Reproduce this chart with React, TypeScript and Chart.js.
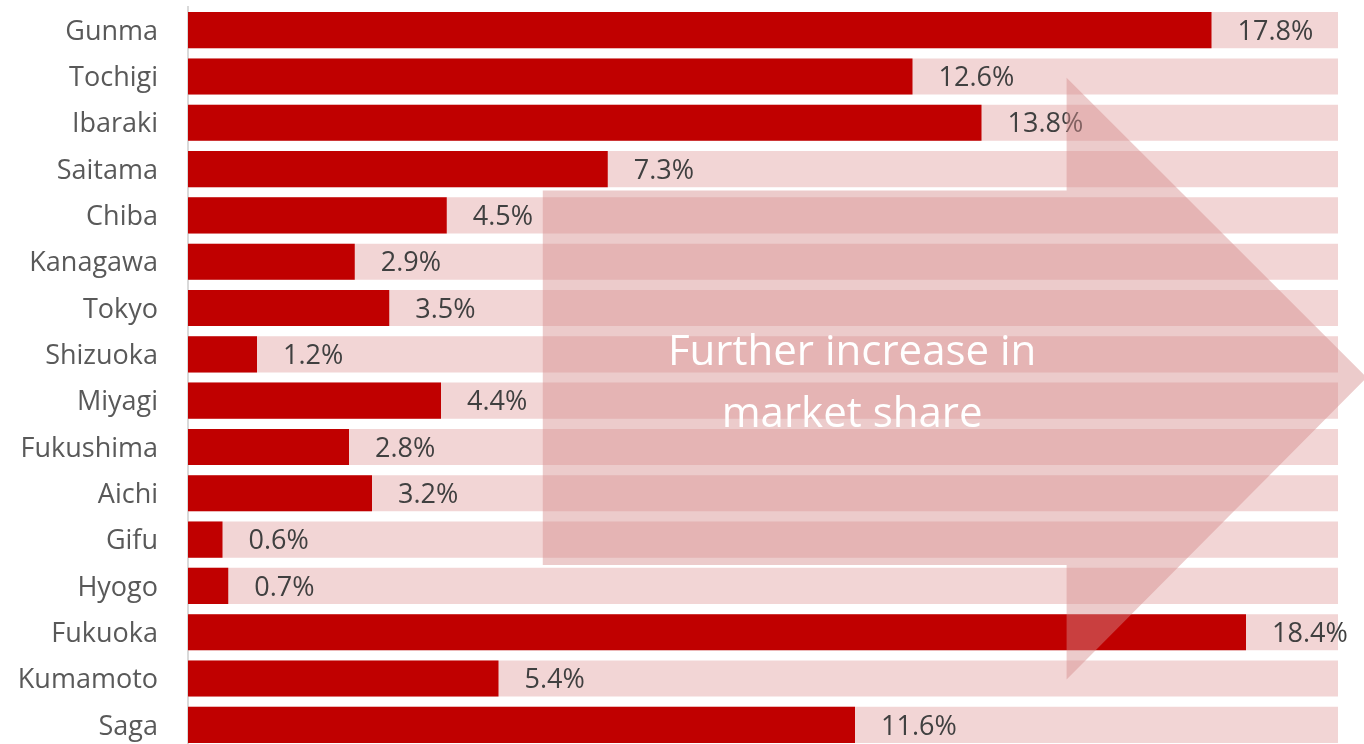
import React, { useEffect, useRef } from "react";
import { Chart, registerables } from "chart.js";

Chart.register(...registerables);

const categories = [
  "Gunma", "Tochigi", "Ibaraki", "Saitama", "Chiba", "Kanagawa", "Tokyo", "Shizuoka",
  "Miyagi", "Fukushima", "Aichi", "Gifu", "Hyogo", "Fukuoka", "Kumamoto", "Saga",
];
const shareValues = [17.8, 12.6, 13.8, 7.3, 4.5, 2.9, 3.5, 1.2, 4.4, 2.8, 3.2, 0.6, 0.7, 18.4, 5.4, 11.6];
const backgroundValues = categories.map(() => 20);
const arrowText = ["Further increase in", "market share"];

const FONT = "'Open Sans', 'Liberation Sans', sans-serif";

const labelPlugin = {
  id: "valueLabels",
  afterDatasetsDraw(chart: any) {
    const { ctx } = chart;
    const meta = chart.getDatasetMeta(0);
    ctx.save();
    ctx.font = `27px ${FONT}`;
    ctx.fillStyle = "#404040";
    ctx.textBaseline = "middle";
    ctx.textAlign = "left";
    meta.data.forEach((bar: any, i: number) => {
      ctx.fillText(shareValues[i].toFixed(1) + "%", bar.x + 26, bar.y + 2);
    });
    ctx.restore();
  },
};

const arrowPlugin = {
  id: "arrow",
  afterDraw(chart: any) {
    const { ctx } = chart;
    const xs = chart.scales.x;
    const ys = chart.scales.y;
    const X = (v: number) => xs.getPixelForValue(v);
    const Y = (v: number) => ys.getPixelForValue(v);
    const xl = X(6.17), xh = X(15.28), xt = X(20.5);
    const bt = Y(3.46), bb = Y(11.55), ht = Y(1.03), hb = Y(14.02), tm = Y(7.5);
    ctx.save();
    ctx.beginPath();
    ctx.moveTo(xl, bt);
    ctx.lineTo(xh, bt);
    ctx.lineTo(xh, ht);
    ctx.lineTo(xt, tm);
    ctx.lineTo(xh, hb);
    ctx.lineTo(xh, bb);
    ctx.lineTo(xl, bb);
    ctx.closePath();
    ctx.fillStyle = "rgba(212, 140, 140, 0.45)";
    ctx.fill();
    ctx.fillStyle = "#ffffff";
    ctx.font = `42px ${FONT}`;
    ctx.textAlign = "center";
    ctx.textBaseline = "alphabetic";
    const cx = X(11.55);
    ctx.fillText(arrowText[0], cx, Y(7.24));
    ctx.fillText(arrowText[1], cx, Y(8.57));
    ctx.restore();
  },
};

export default function App() {
  const ref = useRef<HTMLCanvasElement>(null);
  useEffect(() => {
    document.body.style.margin = "0";
    document.body.style.overflow = "hidden";
    document.documentElement.style.overflow = "hidden";
    const chart = new Chart(ref.current!, {
      type: "bar",
      data: {
        labels: categories,
        datasets: [
          {
            data: shareValues,
            backgroundColor: "#C00000",
            grouped: false,
            barPercentage: 0.78,
            categoryPercentage: 1,
            order: 0,
          } as any,
          {
            data: backgroundValues,
            backgroundColor: "#F2D5D5",
            grouped: false,
            barPercentage: 0.78,
            categoryPercentage: 1,
            order: 1,
          } as any,
        ],
      },
      options: {
        indexAxis: "y",
        animation: false,
        responsive: false,
        maintainAspectRatio: false,
        layout: { padding: { top: 7, right: 26, bottom: 0, left: 0 } },
        plugins: { legend: { display: false }, tooltip: { enabled: false } },
        scales: {
          x: {
            min: 0,
            max: 20,
            display: false,
          },
          y: {
            grid: { display: false, drawTicks: true, tickLength: 30 },
            border: { display: true, color: "#D9D9D9", width: 2 },
            ticks: {
              color: "#595959",
              font: { family: FONT, size: 27 },
              padding: 0,
              labelOffset: 2,
            },
            afterFit(scale: any) {
              scale.width = 188;
              scale.paddingTop = 0;
              scale.paddingBottom = 0;
            },
          } as any,
        },
      },
      plugins: [labelPlugin, arrowPlugin],
    });
    return () => chart.destroy();
  }, []);
  return <canvas ref={ref} width={1364} height={748} style={{ display: "block" }} />;
}
